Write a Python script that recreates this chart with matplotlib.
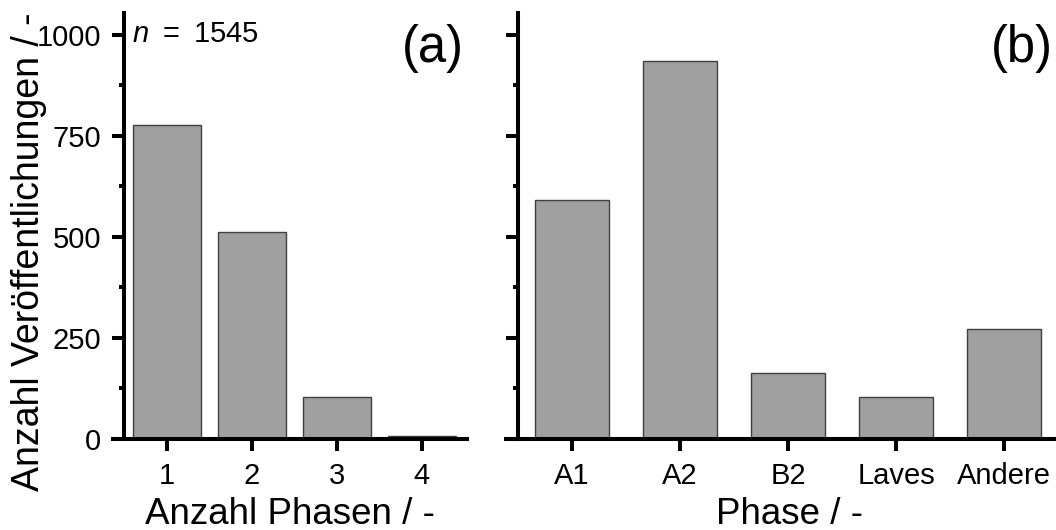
import numpy as np
import matplotlib
matplotlib.use('Agg')
import matplotlib.pyplot as plt
from matplotlib.ticker import MultipleLocator

plt.rcParams['font.family'] = ['Liberation Sans', 'DejaVu Sans']
plt.rcParams['mathtext.fontset'] = 'custom'
plt.rcParams['mathtext.it'] = 'Liberation Sans:italic'
plt.rcParams['mathtext.rm'] = 'Liberation Sans'

# data
anzahl_phasen = [1, 2, 3, 4]
anzahl_counts = [777, 512, 105, 8]
phasen = ['A1', 'A2', 'B2', 'Laves', 'Andere']
phasen_counts = [591, 936, 163, 104, 272]

fig = plt.figure(figsize=(10.56, 5.30), dpi=100)
ax1 = fig.add_axes([0.107, 0.1717, 0.3352, 0.8038])
ax2 = fig.add_axes([0.4792, 0.1717, 0.536, 0.8038])

bar_fc = '#a0a0a0'
bar_ec = '#404040'

ax1.bar(anzahl_phasen, anzahl_counts, width=0.8, color=bar_fc, edgecolor=bar_ec, linewidth=1)
x2 = np.arange(1, len(phasen) + 1)
ax2.bar(x2, phasen_counts, width=0.68, color=bar_fc, edgecolor=bar_ec, linewidth=1)

ax1.set_xlim(0.365, 4.53)
ax2.set_xlim(0.389, 5.63)

for ax in (ax1, ax2):
    ax.set_ylim(0, 1054)
    ax.spines['top'].set_visible(False)
    ax.spines['right'].set_visible(False)
    ax.spines['left'].set_position(('data', 0.5))
    ax.spines['left'].set_linewidth(2.9)
    ax.spines['bottom'].set_linewidth(2.9)
    ax.yaxis.set_major_locator(MultipleLocator(250))
    ax.yaxis.set_minor_locator(MultipleLocator(125))
    ax.tick_params(axis='both', which='major', direction='out', length=8.6, width=2.9,
                   labelsize=21, pad=8)
    ax.tick_params(axis='y', which='minor', direction='out', length=3.6, width=2.9)
    ax.set_facecolor('none')

ax1.set_xticks(anzahl_phasen)
ax1.set_xticklabels([str(v) for v in anzahl_phasen])
ax2.set_xticks(x2)
ax2.set_xticklabels(phasen)
ax2.tick_params(axis='y', which='both', labelleft=False)

ax1.set_xlabel('Anzahl Phasen / -', fontsize=26.5, labelpad=5)
ax2.set_xlabel('Phase / -', fontsize=26.5, labelpad=5)

fig.text(29 / 1056, 1 - 252 / 530, 'Anzahl Veröffentlichungen / -', rotation=90,
         fontsize=27, ha='center', va='center')

ax1.text(0.054, 0.932, '$\\mathit{n}$ \u2009= \u20091545', transform=ax1.transAxes,
         fontsize=21, ha='left', va='baseline')
ax1.text(0.99, 0.885, '(a)', transform=ax1.transAxes, fontsize=36.5,
         ha='right', va='baseline')
ax2.text(0.966, 0.885, '(b)', transform=ax2.transAxes, fontsize=36.5,
         ha='right', va='baseline')

fig.savefig('out.png', dpi=100)
